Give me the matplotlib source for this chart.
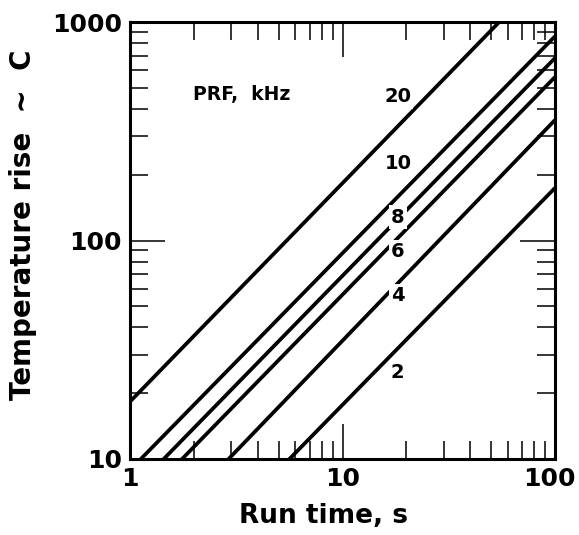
import matplotlib
matplotlib.use("Agg")
import matplotlib.pyplot as plt
from matplotlib.ticker import LogLocator, NullFormatter, FixedLocator, FixedFormatter
from matplotlib.transforms import ScaledTranslation

# ---- data ----
prf_labels = ['20', '10', '8', '6', '4', '2']
run_time_ends = [1, 100]                      # s
temp_at_1s = [18.3, 8.9, 6.95, 5.7, 3.4, 1.8]  # C
temp_at_100s = [1830, 860, 684, 560, 356, 174]  # C
label_time = [18.2, 18.4, 18.2, 18.2, 18.2, 18.2]
label_temp = [454, 226, 128, 89, 56, 24.8]

x_ticks = [1, 10, 100]
x_ticklabels = ['1', '10', '100']
y_ticks = [10, 100, 1000]
y_ticklabels = ['10', '100', '1000']

plt.rcParams['font.family'] = ['DejaVu Sans']
plt.rcParams['font.weight'] = 'bold'

fig = plt.figure(figsize=(5.79, 5.35), dpi=100)
ax = fig.add_axes([130/579, 1-459/535, 425/579, 437/535])
ax.set_xscale('log')
ax.set_yscale('log')
ax.set_xlim(1, 100)
ax.set_ylim(10, 1000)

for t1, t100 in zip(temp_at_1s, temp_at_100s):
    ax.plot(run_time_ends, [t1, t100], color='black', lw=2.7,
            solid_capstyle='butt', clip_on=True, zorder=2)

for lab, lx, ly in zip(prf_labels, label_time, label_temp):
    ax.text(lx, ly, lab, fontsize=14, fontweight='bold', ha='center', va='center',
            zorder=5, bbox=dict(facecolor='white', edgecolor='none', pad=1.5))

ax.text(0.262, 0.833, 'PRF,  kHz', transform=ax.transAxes, fontsize=13.5,
        fontweight='bold', ha='center', va='center')

for sp in ax.spines.values():
    sp.set_linewidth(2.2)

ax.xaxis.set_major_locator(FixedLocator(x_ticks))
ax.xaxis.set_major_formatter(FixedFormatter(x_ticklabels))
ax.yaxis.set_major_locator(FixedLocator(y_ticks))
ax.yaxis.set_major_formatter(FixedFormatter(y_ticklabels))
ax.xaxis.set_minor_locator(LogLocator(base=10, subs=range(2, 10)))
ax.yaxis.set_minor_locator(LogLocator(base=10, subs=range(2, 10)))
ax.xaxis.set_minor_formatter(NullFormatter())
ax.yaxis.set_minor_formatter(NullFormatter())

ax.tick_params(which='both', direction='in', top=True, right=True, width=1.1, colors='black')
ax.tick_params(which='major', length=25, labelsize=18, pad=6)
ax.tick_params(which='minor', length=13)
for lab in ax.get_xticklabels() + ax.get_yticklabels():
    lab.set_fontweight('bold')

# nudge the right-most x tick label inward so it stays inside the figure
last_tick = ax.xaxis.get_major_ticks()[-1]
last_tick.label1.set_transform(last_tick.label1.get_transform()
                               + ScaledTranslation(-6/100, 0, fig.dpi_scale_trans))

ax.set_xlabel('Run time, s', fontsize=19, fontweight='bold')
ax.set_ylabel('Temperature rise  ~  C', fontsize=20, fontweight='bold')
ax.xaxis.set_label_coords(0.455, -0.1)
ax.yaxis.set_label_coords(-0.218, 0.535)

fig.savefig('out.png', dpi=100)
